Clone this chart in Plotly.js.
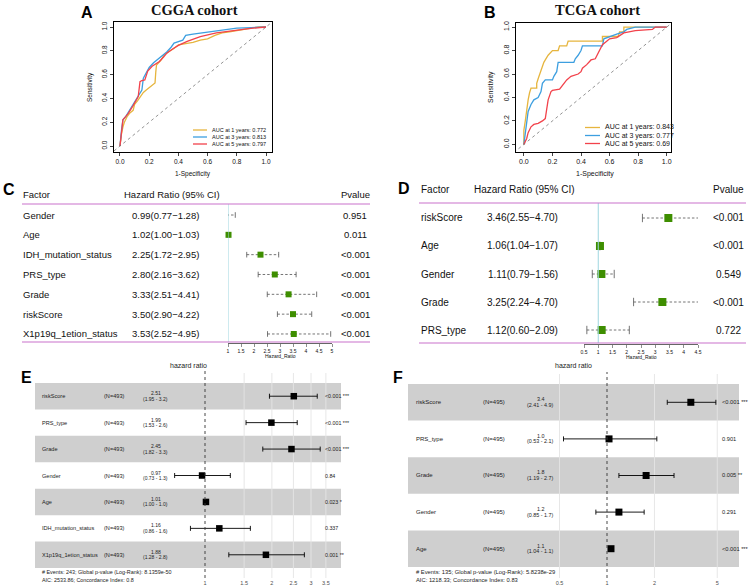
<!DOCTYPE html>
<html><head><meta charset="utf-8">
<script src="https://cdn.plot.ly/plotly-3.0.1.min.js"></script>
<style>html,body{margin:0;padding:0;background:#fff}#chart{width:752px;height:586px}</style>
</head><body><div id="chart"></div>
<script>
// ---------------- DATA ----------------
const rocYears = [1, 3, 5];
const aucA = [0.772, 0.813, 0.797];
const aucB = [0.843, 0.777, 0.69];

const rocA1_fpr = [0,0.005,0.01,0.02,0.03,0.05,0.07,0.09,0.1,0.12,0.14,0.16,0.18,0.2,0.22,0.24,0.245,0.25,0.28,0.3,0.33,0.37,0.4,0.45,0.5,0.55,0.6,0.65,0.7,0.75,0.8,0.85,0.9,0.95,1];
const rocA1_tpr = [0,0.06,0.1,0.16,0.2,0.25,0.28,0.3,0.35,0.38,0.42,0.45,0.47,0.49,0.51,0.53,0.62,0.68,0.72,0.76,0.79,0.82,0.85,0.86,0.87,0.89,0.9,0.93,0.95,0.96,0.97,0.98,0.99,1,1];
const rocA3_fpr = [0,0.005,0.01,0.02,0.04,0.06,0.08,0.11,0.13,0.15,0.16,0.18,0.2,0.23,0.27,0.3,0.32,0.35,0.37,0.43,0.45,0.5,0.59,0.65,0.73,0.8,0.9,0.96,1];
const rocA3_tpr = [0,0.08,0.13,0.22,0.25,0.29,0.33,0.39,0.43,0.47,0.57,0.61,0.66,0.70,0.74,0.77,0.79,0.83,0.865,0.89,0.93,0.94,0.955,0.965,0.98,0.99,0.995,1,1];
const rocA5_fpr = [0,0.005,0.01,0.02,0.04,0.057,0.09,0.11,0.125,0.137,0.15,0.17,0.19,0.22,0.27,0.3,0.32,0.365,0.4,0.46,0.55,0.66,0.78,0.91,1];
const rocA5_tpr = [0,0.07,0.12,0.22,0.25,0.275,0.34,0.38,0.415,0.54,0.55,0.556,0.63,0.67,0.71,0.75,0.78,0.82,0.845,0.88,0.92,0.95,0.97,0.99,1];

const rocB1_fpr = [0,0,0.01,0.02,0.03,0.04,0.05,0.09,0.09,0.1,0.11,0.12,0.13,0.14,0.15,0.17,0.2,0.24,0.25,0.3,0.31,0.55,0.55,0.66,0.67,0.7,0.7,1];
const rocB1_tpr = [0,0.12,0.2,0.3,0.38,0.44,0.48,0.48,0.52,0.56,0.6,0.64,0.68,0.7,0.72,0.76,0.8,0.8,0.84,0.84,0.88,0.88,0.92,0.92,0.96,0.96,1,1];
const rocB3_fpr = [0,0.01,0.02,0.03,0.05,0.07,0.1,0.12,0.13,0.15,0.2,0.21,0.23,0.24,0.35,0.36,0.38,0.4,0.41,0.55,0.56,0.6,0.65,0.7,0.72,0.78,1];
const rocB3_tpr = [0,0.1,0.2,0.28,0.34,0.38,0.4,0.45,0.52,0.55,0.55,0.58,0.62,0.7,0.7,0.73,0.76,0.8,0.84,0.84,0.9,0.92,0.94,0.96,0.98,1,1];
const rocB5_fpr = [0,0.02,0.03,0.05,0.07,0.1,0.13,0.15,0.16,0.17,0.19,0.2,0.25,0.27,0.3,0.33,0.38,0.4,0.41,0.44,0.47,0.5,0.52,0.55,0.58,0.6,0.65,0.7,0.78,0.9,0.92,1];
const rocB5_tpr = [0,0.05,0.1,0.15,0.17,0.18,0.2,0.22,0.3,0.38,0.45,0.46,0.47,0.5,0.55,0.58,0.6,0.62,0.65,0.68,0.72,0.73,0.78,0.85,0.88,0.9,0.91,0.95,0.97,0.98,1,1];

// Panel C (univariate forest, CGGA)
const cFactors = ['Gender','Age','IDH_mutation_status','PRS_type','Grade','riskScore','X1p19q_1etion_status'];
const cHR = [0.99,1.02,2.25,2.80,3.33,3.50,3.53];
const cLo = [0.77,1.00,1.72,2.16,2.51,2.90,2.52];
const cHi = [1.28,1.03,2.95,3.62,4.41,4.22,4.95];
const cP  = ['0.951','0.011','<0.001','<0.001','<0.001','<0.001','<0.001'];
const cTicks = [1,1.5,2,2.5,3,3.5,4,4.5,5];

// Panel D (univariate forest, TCGA)
const dFactors = ['riskScore','Age','Gender','Grade','PRS_type'];
const dHR = [3.46,1.06,1.11,3.25,1.12];
const dLo = [2.55,1.04,0.79,2.24,0.60];
const dHi = [4.70,1.07,1.56,4.70,2.09];
const dP  = ['<0.001','<0.001','0.549','<0.001','0.722'];
const dTicks = [0.5,1,1.5,2,2.5,3,3.5,4,4.5];

// Panel E (multivariate, CGGA)
const eFactors = ['riskScore','PRS_type','Grade','Gender','Age','IDH_mutation_status','X1p19q_1etion_status'];
const eN = [493,493,493,493,493,493,493];
const eHR = [2.51,1.99,2.45,0.97,1.01,1.16,1.88];
const eLo = [1.95,1.53,1.82,0.73,1.00,0.86,1.28];
const eHi = [3.2,2.6,3.3,1.3,1.02,1.6,2.8];
const eP  = ['<0.001','<0.001','<0.001','0.84','0.023','0.337','0.001'];
const eStars = ['***','***','***','','*','','**'];
const eTicks = [1,1.5,2,2.5,3,3.5];
const eFooter = ['# Events: 243; Global p-value (Log-Rank): 8.1359e-50','AIC: 2533.86; Concordance Index: 0.8'];

// Panel F (multivariate, TCGA)
const fFactors = ['riskScore','PRS_type','Grade','Gender','Age'];
const fN = [495,495,495,495,495];
const fHR = [3.4,1.03,1.77,1.19,1.06];
const fLo = [2.41,0.53,1.19,0.85,1.04];
const fHi = [4.9,2.07,2.66,1.72,1.08];
const fP  = ['<0.001','0.901','0.005','0.291','<0.001'];
const fStars = ['***','','**','','***'];
const fTicks = [0.5,1,2,5];
const fFooter = ['# Events: 135; Global p-value (Log-Rank): 5.8238e-29','AIC: 1218.33; Concordance Index: 0.83'];

// ---------------- LAYOUT HELPERS ----------------
const W = 752, H = 586;
const P = x => x / W;
const Q = y => 1 - y / H;
const SANS = 'Liberation Sans, Arial, sans-serif';
const SERIF = 'Liberation Serif, Times New Roman, serif';
const rocCol = ['#E6B53E', '#3D9FE0', '#F2424B'];
const green = '#3E8E00';
const magenta = '#C972CC';
const band = '#cfcfcf';

const traces = [];
const annotations = [];
const shapes = [];

function ann(text, x, y, o = {}) {
  annotations.push(Object.assign({
    text, x: P(x), y: Q(y), xref: 'paper', yref: 'paper', showarrow: false,
    xanchor: 'center', yanchor: 'middle',
    font: { family: SANS, size: o.size || 8, color: o.color || '#111' }
  }, o.extra || {}, o.xanchor ? { xanchor: o.xanchor } : {}, o.angle ? { textangle: o.angle } : {}));
}
function annY(text, x, yref, yv, o = {}) {
  annotations.push(Object.assign({
    text, x: P(x), y: yv, xref: 'paper', yref, showarrow: false,
    xanchor: o.xanchor || 'center', yanchor: 'middle', yshift: o.yshift || 0,
    font: { family: SANS, size: o.size || 8, color: o.color || '#111' }
  }));
}
function hline(x0, x1, y, color, width) {
  shapes.push({ type: 'line', xref: 'paper', yref: 'paper', x0: P(x0), x1: P(x1), y0: Q(y), y1: Q(y), line: { color, width } });
}

const layout = {
  width: W, height: H, margin: { l: 0, r: 0, t: 0, b: 0 },
  paper_bgcolor: '#fff', plot_bgcolor: 'rgba(0,0,0,0)', showlegend: false,
  font: { family: SANS, color: '#111' }
};

// ---------------- ROC PANELS ----------------
function rocAxes(ax, ay, x0, x1, ytop, ybot, rx, ry, fs) {
  const common = { showline: true, mirror: true, linecolor: '#000', linewidth: 1, ticks: 'outside', ticklen: 3, tickwidth: 1,
    tickvals: [0, 0.2, 0.4, 0.6, 0.8, 1], ticktext: ['0.0', '0.2', '0.4', '0.6', '0.8', '1.0'],
    tickfont: { family: SANS, size: fs, color: '#111' }, showgrid: false, zeroline: false, fixedrange: true };
  layout['xaxis' + ax] = Object.assign({}, common, { domain: [P(x0), P(x1)], range: rx, anchor: 'y' + ay });
  layout['yaxis' + ay] = Object.assign({}, common, { domain: [Q(ybot), Q(ytop)], range: ry, anchor: 'x' + ax, tickangle: -90 });
}
rocAxes('', '', 114, 272, 22, 152, [-0.041, 1.041], [-0.05, 1.042], 6.5);
rocAxes('2', '2', 516, 671, 23, 152, [-0.055, 1.03], [-0.065, 1.035], 7);

function rocTraces(xa, ya, sets) {
  shapes.push({ type: 'line', xref: xa, yref: ya, x0: -0.2, y0: -0.2, x1: 1.2, y1: 1.2, line: { color: '#777', width: 0.8, dash: 'dot' } });
  sets.forEach((s, i) => traces.push({ x: s[0], y: s[1], xaxis: xa, yaxis: ya, type: 'scatter', mode: 'lines',
    line: { color: rocCol[i], width: 1.3 }, hoverinfo: 'skip' }));
}
rocTraces('x', 'y', [[rocA1_fpr, rocA1_tpr], [rocA3_fpr, rocA3_tpr], [rocA5_fpr, rocA5_tpr]]);
rocTraces('x2', 'y2', [[rocB1_fpr, rocB1_tpr], [rocB3_fpr, rocB3_tpr], [rocB5_fpr, rocB5_tpr]]);

// titles, labels, legends
ann('<b>CGGA cohort</b>', 195, 10, { size: 14.5, extra: { font: { family: SERIF, size: 14.5, color: '#111' } } });
ann('<b>TCGA cohort</b>', 597, 10, { size: 14.5, extra: { font: { family: SERIF, size: 14.5, color: '#111' } } });
ann('1-Specificity', 193, 174, { size: 6.5 });
ann('1-Specificity', 595, 174, { size: 7 });
ann('Sensitivity', 90, 87, { size: 6.5, angle: -90 });
ann('Sensitivity', 491, 87, { size: 7, angle: -90 });
const legA = [130, 137, 144], legB = [127.5, 135.5, 143.5];
rocYears.forEach((yr, i) => {
  hline(193, 207, legA[i], rocCol[i], 1.3);
  ann('AUC at ' + yr + ' years: ' + aucA[i], 210, legA[i], { size: 5.5, xanchor: 'left' });
  hline(585, 600, legB[i], rocCol[i], 1.3);
  ann('AUC at ' + yr + ' years: ' + aucB[i], 603, legB[i], { size: 7, xanchor: 'left' });
});

// panel letters
[['A', 87, 12.5], ['B', 490, 12.5], ['C', 9, 190], ['D', 404, 188], ['E', 26, 377], ['F', 398, 377]].forEach(l =>
  ann('<b>' + l[0] + '</b>', l[1], l[2], { size: 16, extra: { font: { family: SANS, size: 16, color: '#000' } } }));

// ---------------- TABLE FORESTS (C, D) ----------------
function tableForest(o) {
  const ax = o.ax;
  const n = o.factors.length;
  const topV = (o.domTop - o.row0) / o.rowH, botV = (o.domBot - o.row0) / o.rowH;
  layout['xaxis' + ax] = { domain: [P(o.x0px), P(o.x1px)], range: [o.t0, o.t1], anchor: 'y' + ax,
    showline: true, linecolor: '#000', linewidth: 0.6, ticks: 'outside', ticklen: 3, tickwidth: 0.6,
    tickvals: o.ticks, ticktext: o.ticks.map(String), tickfont: { family: SANS, size: 5, color: '#111' },
    showgrid: false, zeroline: false, fixedrange: true };
  layout['yaxis' + ax] = { domain: [Q(o.domBot), Q(o.domTop)], range: [botV, topV], visible: false, anchor: 'x' + ax, fixedrange: true };
  const xa = 'x' + ax, ya = 'y' + ax;
  // reference line at HR = 1
  shapes.push({ type: 'line', xref: xa, yref: 'paper', x0: 1, x1: 1, y0: Q(o.domBot - 1), y1: Q(o.lineTop), line: { color: '#9ED6E0', width: 1 } });
  const ci = '#505050';
  for (let i = 0; i < n; i++) {
    traces.push({ x: [o.lo[i], o.hi[i]], y: [i, i], xaxis: xa, yaxis: ya, mode: 'lines', type: 'scatter',
      line: { color: ci, width: 0.8, dash: '2.5px,2px' }, hoverinfo: 'skip', cliponaxis: false });
  }
  traces.push({ x: o.lo.concat(o.hi), y: o.factors.map((_, i) => i).concat(o.factors.map((_, i) => i)), xaxis: xa, yaxis: ya,
    mode: 'markers', type: 'scatter', marker: { symbol: 'line-ns-open', size: o.cap, color: ci, line: { color: ci, width: 0.8 } },
    hoverinfo: 'skip', cliponaxis: false });
  traces.push({ x: o.hr, y: o.factors.map((_, i) => i), xaxis: xa, yaxis: ya, mode: 'markers', type: 'scatter',
    marker: { symbol: 'square', size: o.box, color: green, line: { width: 0 } }, hoverinfo: 'skip', cliponaxis: false });
  // text columns
  ann('Factor', o.nameX, o.headY, { size: o.fs, xanchor: 'left' });
  ann('Hazard Ratio (95% CI)', o.hrHeadX, o.headY, { size: o.fs, xanchor: 'left' });
  ann('Pvalue', o.pX, o.headY, { size: o.fs });
  for (let i = 0; i < n; i++) {
    annY(o.factors[i], o.nameX, ya, i, { size: o.fs, xanchor: 'left' });
    annY(o.hr[i].toFixed(2) + '(' + o.lo[i].toFixed(2) + '\u2212' + o.hi[i].toFixed(2) + ')', o.hrRight, ya, i, { size: o.fs, xanchor: 'right' });
    annY(o.p[i], o.pX, ya, i, { size: o.fs });
  }
  hline(o.lineL, o.lineR, o.lineTop, magenta, 1.2);
  hline(o.lineL, o.lineR, o.domBot - 1, magenta, 1.2);
  ann('Hazard_Ratio', (o.x0px + o.x1px) / 2, o.domBot + 13, { size: 5 });
}
tableForest({ ax: '3', factors: cFactors, hr: cHR, lo: cLo, hi: cHi, p: cP, ticks: cTicks,
  x0px: 228, x1px: 332, t0: 1, t1: 5, domTop: 204, domBot: 343, row0: 215, rowH: 19.83,
  lineTop: 204, lineL: 22, lineR: 370, nameX: 21, hrHeadX: 122, hrRight: 201, pX: 355, headY: 195, fs: 9.5, cap: 4, box: 6 });
tableForest({ ax: '4', factors: dFactors, hr: dHR, lo: dLo, hi: dHi, p: dP, ticks: dTicks,
  x0px: 584, x1px: 698, t0: 0.5, t1: 4.5, domTop: 203, domBot: 344, row0: 218, rowH: 28,
  lineTop: 203, lineL: 419, lineR: 746, nameX: 419, hrHeadX: 472, hrRight: 560, pX: 728, headY: 190, fs: 10, cap: 6, box: 8 });

// ---------------- GGFOREST PANELS (E, F) ----------------
function ggForest(o) {
  const ax = o.ax, xa = 'x' + ax, ya = 'y' + ax;
  const n = o.factors.length;
  const rowH = (o.bandBot - o.bandTop) / n;
  const topV = -0.5 - (o.bandTop - o.domTop) / rowH;
  const botV = (n - 0.5) + (o.domBot - o.bandBot) / rowH;
  const k = o.pxPerLn; // pixels per natural-log unit
  const lnL = (o.x0px - o.onePx) / k, lnR = (o.x1px - o.onePx) / k;
  layout['xaxis' + ax] = { type: 'log', domain: [P(o.x0px), P(o.x1px)], range: [lnL / Math.LN10, lnR / Math.LN10], anchor: ya,
    showline: false, ticks: '', tickvals: o.ticks, ticktext: o.ticks.map(String), tickfont: { family: SANS, size: 5.5, color: '#4d4d4d' },
    showgrid: false, zeroline: false, fixedrange: true };
  layout['yaxis' + ax] = { domain: [Q(o.domBot), Q(o.domTop)], range: [botV, topV], visible: false, anchor: xa, fixedrange: true };
  for (let i = 0; i < n; i += 2) {
    shapes.push({ type: 'rect', xref: xa + ' domain', yref: ya, x0: 0, x1: 1, y0: i - 0.5, y1: i + 0.5, fillcolor: band, line: { width: 0 }, layer: 'below' });
  }
  o.ticks.filter(v => v !== 1).forEach(v => shapes.push({ type: 'line', xref: xa, yref: 'paper', x0: v, x1: v, y0: Q(o.domBot), y1: Q(o.domTop),
    line: { color: '#e4e4e4', width: 0.9 }, layer: 'below' }));
  shapes.push({ type: 'line', xref: xa, yref: 'paper', x0: 1, x1: 1, y0: Q(o.domBot), y1: Q(o.domTop - 2), line: { color: '#333', width: 0.9, dash: 'dot' } });
  traces.push({ x: o.hr, y: o.factors.map((_, i) => i), xaxis: xa, yaxis: ya, type: 'scatter', mode: 'markers',
    marker: { symbol: 'square', size: o.box, color: '#000' },
    error_x: { type: 'data', symmetric: false, array: o.hi.map((h, i) => h - o.hr[i]), arrayminus: o.lo.map((l, i) => o.hr[i] - l),
      color: '#000', thickness: 0.9, width: 2.5 }, hoverinfo: 'skip', cliponaxis: false });
  ann('hazard ratio', o.titleX, 365, { size: 7, color: '#222' });
  for (let i = 0; i < n; i++) {
    annY(o.factors[i], o.nameX, ya, i, { size: o.fs, xanchor: 'left', color: '#222' });
    annY('(N=' + o.N[i] + ')', o.nX, ya, i, { size: o.fs, xanchor: 'left', color: '#222' });
    annY(o.estFmt(o.hr[i]), o.estX, ya, i, { size: o.fs - 0.6, color: '#222', yshift: 3 });
    annY('(' + o.lo[i].toFixed(2) + ' - ' + o.hi[i].toPrecision(2) + ')', o.estX - 1, ya, i, { size: o.fs - 0.6, color: '#222', yshift: -2.5 });
    annY(o.p[i] + (o.stars[i] ? ' ' + o.stars[i] : ''), o.pX, ya, i, { size: o.fs - 0.3, xanchor: 'left', color: '#222' });
  }
  ann(o.footer[0], o.nameX, 572, { size: o.fs - 0.2, xanchor: 'left', color: '#222' });
  ann(o.footer[1], o.nameX, 579.5, { size: o.fs - 0.2, xanchor: 'left', color: '#222' });
}
ggForest({ ax: '5', factors: eFactors, N: eN, hr: eHR, lo: eLo, hi: eHi, p: eP, stars: eStars, ticks: eTicks, footer: eFooter,
  x0px: 35, x1px: 341, onePx: 205, pxPerLn: 96.5, domTop: 373, domBot: 578, bandTop: 383, bandBot: 568,
  nameX: 40, nX: 102, estX: 156, pX: 323, titleX: 188, fs: 5.6, box: 6.5, estFmt: v => v.toFixed(2) });
ggForest({ ax: '6', factors: fFactors, N: fN, hr: fHR, lo: fLo, hi: fHi, p: fP, stars: fStars, ticks: fTicks, footer: fFooter,
  x0px: 408, x1px: 739, onePx: 607, pxPerLn: 68.5, domTop: 374, domBot: 578, bandTop: 384, bandBot: 567,
  nameX: 414, nX: 481, estX: 541, pX: 720, titleX: 573, fs: 6, box: 7, estFmt: v => v.toPrecision(2) });

layout.annotations = annotations;
layout.shapes = shapes;
Plotly.newPlot('chart', traces, layout, { staticPlot: true, displayModeBar: false });
</script>
</body></html>
